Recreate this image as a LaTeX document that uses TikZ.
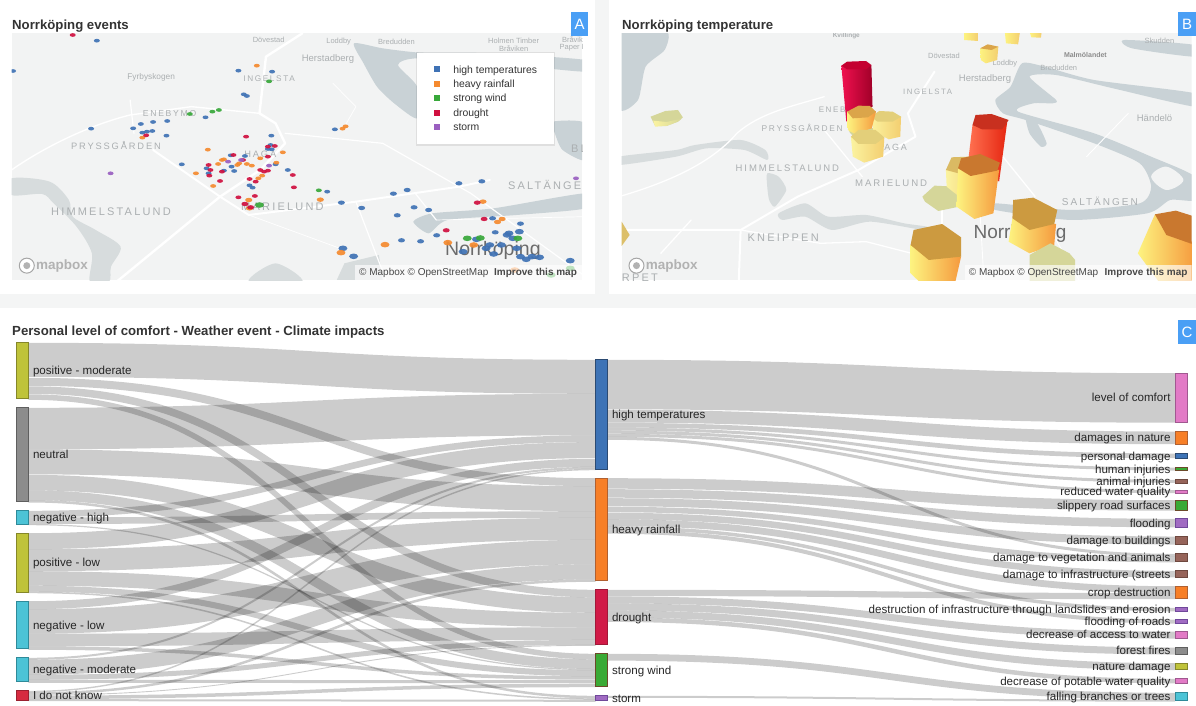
\documentclass[tikz,border=0pt]{standalone}
\usepackage{fontspec}
\setmainfont{Liberation Sans}
\newfontfamily\mapfont[LetterSpace=20]{Liberation Sans}
\usetikzlibrary{calc}
\pgfdeclarelayer{base}
\pgfdeclarelayer{flowlayer}
\pgfsetlayers{base,flowlayer,main}
\definecolor{pagebg}{HTML}{F4F5F5}
\definecolor{mapbg}{HTML}{F2F3F3}
\definecolor{water}{HTML}{C9D2D6}
\definecolor{waterb}{HTML}{D7DCDD}
\definecolor{badge}{HTML}{4A9FF5}
\definecolor{title}{HTML}{333333}
\definecolor{maptxt}{HTML}{ABAFB1}
\definecolor{evblue}{HTML}{3F72B5}
\definecolor{evorange}{HTML}{F58A2F}
\definecolor{evgreen}{HTML}{38A83A}
\definecolor{evred}{HTML}{D0103F}
\definecolor{evpurple}{HTML}{9A5FC0}
\definecolor{colpale}{HTML}{D5D699}
\definecolor{colY}{HTML}{FDF380}
\definecolor{colPY}{HTML}{FBF3A0}
\definecolor{colO}{HTML}{F59A3E}
\definecolor{colLO}{HTML}{F3CE70}
\definecolor{topM}{HTML}{CC9A40}
\definecolor{topB}{HTML}{C9782F}
\definecolor{topP}{HTML}{E3CF7A}
\definecolor{topA}{HTML}{DBA54A}
\definecolor{redL}{HTML}{F0104F}\definecolor{redR}{HTML}{A00028}\definecolor{redT}{HTML}{C40030}
\definecolor{ordL}{HTML}{FF7050}\definecolor{ordR}{HTML}{E52510}\definecolor{ordT}{HTML}{C8301F}
\definecolor{olive}{HTML}{BFC33A}\definecolor{oliveD}{HTML}{85872A}
\definecolor{gry}{HTML}{8C8C8C}\definecolor{gryD}{HTML}{5F5F5F}
\definecolor{teal}{HTML}{4CC3D6}\definecolor{tealD}{HTML}{2F8A99}
\definecolor{redn}{HTML}{D62B40}\definecolor{rednD}{HTML}{9A2030}
\definecolor{blue}{HTML}{3D73B6}\definecolor{blueD}{HTML}{2B4A72}
\definecolor{oran}{HTML}{F77F27}\definecolor{oranD}{HTML}{B06030}
\definecolor{crim}{HTML}{D11A47}\definecolor{crimD}{HTML}{A01838}
\definecolor{gren}{HTML}{3AAA35}\definecolor{grenD}{HTML}{6B4A2A}
\definecolor{purp}{HTML}{A06BC2}\definecolor{purpD}{HTML}{70489A}
\definecolor{pink}{HTML}{E27AC6}\definecolor{pinkD}{HTML}{A05890}
\definecolor{brow}{HTML}{96645A}\definecolor{browD}{HTML}{6E483F}
\tikzset{
  sbar/.style={rectangle,inner sep=0pt,outer sep=0pt,line width=1pt},
  lbl/.style={inner sep=0pt,outer sep=0pt,text=black!85,text height=8pt,text depth=0pt,font=\fontsize{11.6}{13}\selectfont},
  ttl/.style={anchor=west,inner sep=0pt,text=title,text height=10pt,text depth=0pt,font=\bfseries\fontsize{13.2}{15}\selectfont},
  bdg/.style={fill=badge,inner sep=0pt,outer sep=0pt,text=white,font=\fontsize{15}{17}\selectfont},
  flowline/.style={draw=black,draw opacity=.2,line cap=butt},
  capl/.style={inner sep=0pt,text=maptxt,font=\mapfont\fontsize{11}{13}\selectfont},
  sml/.style={inner sep=0pt,text=maptxt,font=\fontsize{7.5}{9}\selectfont},
  mid/.style={inner sep=0pt,text=maptxt,font=\fontsize{9.5}{11}\selectfont},
  city/.style={inner sep=0pt,text=black!58,font=\fontsize{19.5}{22}\selectfont},
  attr/.style={inner sep=0pt,text=black!72,font=\fontsize{10}{12}\selectfont},
  logo/.style={inner sep=0pt,text=black!30,font=\bfseries\fontsize{13.5}{15}\selectfont},
  legl/.style={anchor=west,inner sep=0pt,text=black!80,font=\fontsize{10.4}{12}\selectfont},
  legk/.style={rectangle,inner sep=0pt,outer sep=0pt,minimum size=6pt},
  rd/.style={draw=white,line cap=round,line join=round},
}
\newcommand\snode[7]{\node[sbar,fill=#6,draw=#7,minimum width={(#4-#2-1)*1pt},minimum height={(#5-#3-1)*1pt}] (#1) at ({(#2+#4)/2},{(#3+#5)/2}) {};}
\newcommand\lnk[6]{%
  \path ($(#2.north east)+(0,{#3+#6/2})$) coordinate (fs) ($(#4.north west)+(0,{#5+#6/2})$) coordinate (ft);
  \draw[flowline,line width=#6pt] (fs) .. controls (#1 |- fs) and (#1 |- ft) .. (ft);}
\newcommand\evs[3]{\foreach \p in {#3}{\fill[#1,opacity=.92] \p ellipse[x radius=#2pt,y radius=#2pt*0.62];}}
\begin{document}
\begin{tikzpicture}[x=1pt,y=-1pt]
\useasboundingbox (0,0) rectangle (1196,705);
\begin{pgfonlayer}{base}
\fill[pagebg] (0,0) rectangle (1196,705);
\fill[white] (0,0) rectangle (595,294);
\fill[white] (609,0) rectangle (1196,294);
\fill[white] (0,308) rectangle (1196,705);

% ---------- map A ----------
\begin{scope}
\clip (11.5,33) rectangle (582,280);
\fill[mapbg] (11.5,33) rectangle (582,280);
\begin{scope}[x=0.3827pt,y=-0.3333pt]
\fill[waterb] plot[smooth cycle,tension=.5] coordinates {(30,535)(130,545)(180,600)(190,650)(250,690)(315,740)(290,800)(285,845)(235,845)(240,760)(200,680)(140,610)(110,582)(30,585)};
\fill[waterb] plot[smooth cycle,tension=.5] coordinates {(650,845)(720,790)(790,845)};
\fill[water] plot[smooth cycle,tension=.4] coordinates {(925,130)(1000,145)(1100,158)(1280,160)(1530,180)(1530,215)(1300,190)(1090,175)(1040,195)(1090,260)(1090,355)(1030,310)(985,260)(950,190)};
\fill[water] plot[smooth cycle,tension=.4] coordinates {(1080,665)(1130,640)(1290,625)(1530,580)(1530,625)(1350,645)(1170,660)(1120,700)};
\fill[water] plot[smooth cycle,tension=.4] coordinates {(1445,365)(1530,370)(1530,480)(1470,450)(1450,400)};
\fill[waterb] (880,840) -- (900,790) -- (990,765) -- (1000,840) -- cycle;
\draw[rd,line width=2.4pt] (305,845) -- (575,590) -- (680,510) -- (745,430) -- (720,370) -- (678,340) -- (695,170) -- (790,100);
\draw[rd,line width=2pt] (400,450) -- (575,590) -- (650,645) -- (930,605) -- (1200,560) -- (1280,540);
\draw[rd,line width=1.4pt] (30,510) .. controls (130,430) and (250,370) .. (340,345) -- (500,320) -- (678,340);
\draw[rd,line width=1.2pt] (745,400) -- (1000,430) -- (1230,580) -- (1530,830);
\draw[rd,line width=1.2pt] (930,605) -- (1010,845);
\draw[rd,line width=1.2pt] (1085,580) -- (1140,660);
\draw[rd,line width=1.2pt] (340,300) -- (350,400);
\draw[rd,line width=.7pt] (650,645) -- (900,750) (1140,660) -- (1530,650) (870,250) -- (930,320) -- (900,380);
\node[sml] (a1) at (702,118) {Dövestad};
\node[sml] (a2) at (885,125) {Loddby};
\node[sml] (a3) at (1036,125) {Bredudden};
\node[sml] (a4) at (1342,122) {Holmen Timber};
\node[sml] (a5) at (1342,145) {Bråviken};
\node[sml,anchor=west] (a6) at (1468,118) {Bråvik};
\node[sml,anchor=west] (a7) at (1462,142) {Paper M};
\node[mid] (a8) at (857,178) {Herstadberg};
\node[sml,font=\fontsize{8.3}{10}\selectfont] (a9) at (395,231) {Fyrbyskogen};
\node[capl,font=\mapfont\fontsize{8.2}{10}\selectfont] (a10) at (703,237) {INGELSTA};
\node[capl,font=\mapfont\fontsize{8.6}{10}\selectfont] (a11) at (443,341) {ENEBYMO};
\node[capl,font=\mapfont\fontsize{9.3}{11}\selectfont] (a12) at (303,435) {PRYSSGÅRDEN};
\node[capl,font=\mapfont\fontsize{9.3}{11}\selectfont] (a13) at (680,462) {HAGA};
\node[capl] (a14) at (290,635) {HIMMELSTALUND};
\node[capl] (a15) at (738,620) {MARIELUND};
\node[capl,anchor=west] (a16) at (1327,555) {SALTÄNGEN};
\node[capl,anchor=west] (a17) at (1492,445) {BL};
\node[city] (a18) at (1288,752) {Norrköping};
\evs{evblue}{3}{(253,122),(34,213),(623,212),(711,215),(637,283),(645,288),(238,386),(348,385),(368,372),(400,366),(437,363),(537,352),(372,398),(398,393),(384,395),(435,407),(709,407),(707,435),(710,448),(700,447),(603,466),(475,493),(640,468),(540,505),(545,520),(605,500),(612,513),(585,512),(720,493),(752,510),(652,556),(660,563),(855,575),(875,388)}
\evs{evblue}{3.5}{(892,608),(945,624),(1028,581),(1064,570),(1199,550),(1259,544),(1082,622),(1120,630),(1038,646),(1141,706),(1049,721),(1099,724),(1287,655),(1360,671),(1294,697)}
\evs{evblue}{4.5}{(896,745),(924,769),(1330,700),(1357,695),(1340,715),(1325,705),(1245,718),(1280,735),(1310,735),(1210,755),(1270,745),(1290,762),(1360,770),(1375,778),(1390,770),(1410,772),(1350,745),(1490,782)}
\evs{evorange}{3}{(671,197),(903,379),(895,386),(372,413),(543,449),(739,457),(585,478),(570,492),(625,490),(645,492),(658,497),(512,520),(722,488),(680,475),(557,558),(685,527),(675,535),(620,495),(580,480)}
\evs{evorange}{3.6}{(837,599),(650,600),(652,625),(1262,605),(1312,657),(1300,666)}
\evs{evorange}{4.5}{(1006,734),(891,758),(1170,728),(1238,735),(1345,810)}
\evs{evgreen}{3}{(496,342),(555,335),(572,330),(703,244),(833,571)}
\evs{evgreen}{4.5}{(678,615),(1221,715),(1255,714),(1353,715),(1490,805),(1440,825)}
\evs{evred}{3}{(190,105),(382,406),(643,410),(700,440),(718,438),(700,470),(610,465),(635,480),(545,495),(550,510),(580,515),(547,527),(575,543),(652,537),(668,545),(680,510),(700,512),(690,515),(765,525),(768,562),(623,592),(666,588)}
\evs{evred}{3.5}{(640,612),(655,622),(1247,608),(1265,657),(1166,691)}
\evs{evpurple}{3}{(289,520),(596,485),(703,497),(1505,535),(630,480)}
\fill[white,opacity=.65] (928,795) rectangle (1525,845);
\draw[black!35,fill=white,line width=1pt] (70,797) circle[radius=7.5pt];
\fill[black!30] (70,797) circle[radius=3.5pt];
\node[logo,anchor=west] (a19) at (94,797) {mapbox};
\node[attr,anchor=west] (a20) at (938,818) {© Mapbox © OpenStreetMap};
\node[attr,anchor=east,font=\bfseries\fontsize{10}{12}\selectfont] (a21) at (1508,818) {Improve this map};
\end{scope}
\end{scope}

% ---------- map B ----------
\begin{scope}
\clip (621.7,33) rectangle (1191.5,280);
\fill[mapbg] (621.7,33) rectangle (1191.5,280);
\begin{scope}[xshift=600pt,x=0.3801pt,y=-0.3333pt]
\fill[water] plot[smooth cycle,tension=.4] coordinates {(50,95)(175,95)(170,150)(120,200)(100,300)(50,325)};
\fill[waterb] plot[smooth cycle,tension=.4] coordinates {(50,470)(200,450)(250,435)(370,420)(435,450)(440,480)(380,450)(280,445)(200,470)(50,495)};
\fill[waterb] plot[smooth cycle,tension=.4] coordinates {(440,520)(470,530)(490,570)(460,620)(445,600)(440,560)};
\fill[waterb] plot[smooth cycle,tension=.4] coordinates {(470,640)(540,610)(600,650)(700,645)(800,670)(860,680)(850,690)(710,665)(610,690)(540,650)(480,660)};
\fill[water] plot[smooth cycle,tension=.4] coordinates {(1110,190)(1170,200)(1300,240)(1565,280)(1565,320)(1350,265)(1200,225)(1130,230)(1200,300)(1190,310)(1140,310)(1100,335)(1300,400)(1450,470)(1565,530)(1565,600)(1500,600)(1440,640)(1240,660)(1040,630)(1040,610)(1240,630)(1420,610)(1450,560)(1420,490)(1300,430)(1120,360)(1060,340)(1040,300)(1080,260)};
\fill[water] plot[smooth cycle,tension=.4] coordinates {(1120,350)(1150,370)(1175,430)(1160,440)(1130,400)};
\fill[water] plot[smooth cycle,tension=.4] coordinates {(1380,120)(1565,135)(1565,170)(1400,145)};
\fill[mapbg] plot[smooth cycle,tension=.6] coordinates {(1450,530)(1490,500)(1535,540)(1490,570)};
\draw[rd,line width=2pt] (50,690) -- (370,690) -- (365,845);
\draw[rd,line width=2pt] (370,690) -- (520,590) -- (680,510) -- (830,410) -- (810,340) -- (880,215);
\draw[rd,line width=1.3pt] (50,590) .. controls (200,540) and (300,480) .. (360,400) .. controls (420,340) and (500,320) .. (590,290);
\draw[rd,line width=1.3pt] (590,390) -- (690,530);
\draw[rd,line width=1.3pt] (370,690) -- (580,730) -- (700,725) -- (820,760);
\draw[rd,line width=1.3pt] (240,660) -- (160,760);
\draw[rd,line width=1.3pt] (1060,470) -- (1145,590);
\draw[rd,line width=1.3pt] (900,590) -- (900,680);
\draw[rd,line width=.9pt] (1200,720) -- (1260,840) (1280,470) -- (1390,340) (1000,640) -- (1010,840);
\node[sml,font=\bfseries\fontsize{6.5}{8}\selectfont] (b1) at (648,106) {Kvillinge};
\node[sml] (b2) at (905,168) {Dövestad};
\node[sml] (b3) at (1065,190) {Loddby};
\node[sml] (b4) at (1207,202) {Bredudden};
\node[sml,font=\bfseries\fontsize{7}{8}\selectfont,text=black!45] (b5) at (1277,166) {Malmölandet};
\node[sml] (b6) at (1472,122) {Skudden};
\node[mid] (b7) at (1013,236) {Herstadberg};
\node[capl,font=\mapfont\fontsize{7.8}{10}\selectfont] (b8) at (862,274) {INGELSTA};
\node[mid] (b9) at (1459,353) {Händelö};
\node[capl,font=\mapfont\fontsize{8}{10}\selectfont,anchor=west] (b10) at (575,330) {ENEBYMO};
\node[capl,font=\mapfont\fontsize{8.4}{10}\selectfont] (b11) at (532,383) {PRYSSGÅRDEN};
\node[capl,font=\mapfont\fontsize{9}{11}\selectfont,anchor=east] (b12) at (808,441) {HAGA};
\node[capl,font=\mapfont\fontsize{9.5}{11}\selectfont] (b13) at (493,505) {HIMMELSTALUND};
\node[capl,font=\mapfont\fontsize{9.6}{11}\selectfont] (b14) at (766,549) {MARIELUND};
\node[capl,font=\mapfont\fontsize{10}{12}\selectfont] (b15) at (1315,605) {SALTÄNGEN};
\node[capl] (b16) at (482,714) {KNEIPPEN};
\node[city,font=\fontsize{19}{22}\selectfont] (b17) at (1105,700) {Norrköping};
\node[capl,anchor=west] (b18) at (57,834) {RPET};
% columns
\fill[colpale] plot coordinates {(133,350)(172,333)(205,330)(218,352)(205,365)(175,378)(145,378)} -- cycle;
\shade[left color=colPY,right color=colpale] (140,362) -- (175,366) -- (215,356) -- (205,365) -- (175,378) -- (145,380) -- cycle;
\shade[left color=colY,right color=colLO] (1000,145) -- (1002,180) -- (1015,190) -- (1045,180) -- (1048,140) -- cycle;
\fill[topA] (1000,145) -- (1020,133) -- (1048,140) -- (1030,150) -- cycle;
\shade[left color=colY,right color=colLO] (958,95) -- (958,120) -- (995,123) -- (995,95) -- cycle;
\shade[left color=colY,right color=colLO] (1065,95) -- (1068,130) -- (1100,133) -- (1105,95) -- cycle;
\shade[left color=colY,right color=colLO] (1130,95) -- (1135,112) -- (1160,113) -- (1162,95) -- cycle;
\fill[topP!70!topM] (57,665) -- (78,705) -- (57,738) -- cycle;
% tall red
\shade[left color=redL,right color=redR] (635,197) -- (648,365) -- (717,320) -- (714,195) -- cycle;
\fill[redT] (635,197) -- (650,185) -- (700,183) -- (714,195) -- (700,208) -- (650,208) -- cycle;
% cluster
\fill[colpale] (655,395) -- (685,380) -- (720,385) -- (725,410) -- (680,425) -- cycle;
\shade[left color=colPY,right color=colLO] (712,350) -- (720,395) -- (760,418) -- (790,410) -- (792,350) -- cycle;
\fill[topP] (712,350) -- (735,333) -- (770,335) -- (792,350) -- (770,365) -- (730,365) -- cycle;
\shade[left color=colY,right color=colO] (650,335) -- (652,390) -- (670,402) -- (715,385) -- (726,335) -- cycle;
\fill[topA] (650,335) -- (680,317) -- (710,318) -- (726,335) -- (705,352) -- (665,355) -- cycle;
\shade[left color=colPY,right color=colLO] (660,410) -- (665,470) -- (695,488) -- (745,470) -- (748,412) -- cycle;
\fill[topP] (660,410) -- (680,390) -- (725,390) -- (748,412) -- (725,432) -- (680,432) -- cycle;
% tall orange-red
\shade[left color=ordL,right color=ordR] (980,375) -- (970,470) -- (1050,545) -- (1072,360) -- cycle;
\fill[ordT] (980,375) -- (988,345) -- (1030,342) -- (1075,360) -- (1058,388) -- (1005,388) -- cycle;
\fill[colpale] (848,590) -- (880,557) -- (935,560) -- (945,620) -- (890,633) -- (855,605) -- cycle;
\shade[left color=colPY,right color=colLO] (910,510) -- (912,560) -- (945,590) -- (1000,590) -- (1000,510) -- cycle;
\fill[topP!60!topM] (910,510) -- (925,472) -- (970,470) -- (1000,510) -- (960,525) -- cycle;
\shade[left color=colY,right color=colO] (942,505) -- (938,620) -- (985,657) -- (1035,640) -- (1050,510) -- cycle;
\fill[topB] (942,505) -- (950,475) -- (1000,462) -- (1052,488) -- (1045,512) -- (975,528) -- cycle;
% lower columns
\shade[left color=colY,right color=colO] (1085,655) -- (1075,725) -- (1130,760) -- (1195,735) -- (1200,672) -- cycle;
\fill[topM] (1087,600) -- (1140,593) -- (1203,630) -- (1195,672) -- (1130,690) -- (1085,655) -- cycle;
\fill[colpale] (1130,765) -- (1185,730) -- (1235,760) -- (1250,780) -- (1250,845) -- (1130,845) -- cycle;
\shade[left color=colY,right color=colO] (817,735) -- (817,820) -- (840,845) -- (935,845) -- (950,770) -- cycle;
\fill[topM] (817,735) -- (825,690) -- (900,672) -- (950,712) -- (950,770) -- (865,780) -- cycle;
\shade[left color=colY,right color=colO] (1460,643) -- (1415,760) -- (1470,845) -- (1565,845) -- (1565,732) -- cycle;
\fill[topB] (1460,643) -- (1515,632) -- (1565,650) -- (1565,735) -- (1490,705) -- cycle;
\fill[white,opacity=.65] (960,795) rectangle (1565,845);
\draw[black!35,fill=white,line width=1pt] (96,797) circle[radius=7.5pt];
\fill[black!30] (96,797) circle[radius=3.5pt];
\node[logo,anchor=west] (b19) at (120,797) {mapbox};
\node[attr,anchor=west] (b20) at (970,818) {© Mapbox © OpenStreetMap};
\node[attr,anchor=east,font=\bfseries\fontsize{10}{12}\selectfont] (b21) at (1546,818) {Improve this map};
\end{scope}
\end{scope}
\end{pgfonlayer}

% legend
\begin{scope}[x=0.3827pt,y=-0.3333pt]
\fill[black,opacity=.08] (1086,157) rectangle (1451,437);
\node[rectangle,fill=white,inner sep=0pt,minimum width=136.5pt,minimum height=91pt] (legbox) at (1268.5,296.5) {};
\node[legk,fill=evblue] (k1) at (1143,208) {}; \node[legl] (t1) at (1184,211) {high temperatures};
\node[legk,fill=evorange] (k2) at (1143,252) {}; \node[legl] (t2) at (1184,254) {heavy rainfall};
\node[legk,fill=evgreen] (k3) at (1143,295) {}; \node[legl] (t3) at (1184,297) {strong wind};
\node[legk,fill=evred] (k4) at (1143,338) {}; \node[legl] (t4) at (1184,340) {drought};
\node[legk,fill=evpurple] (k5) at (1143,380) {}; \node[legl] (t5) at (1184,383) {storm};
\end{scope}

% titles and badges
\node[ttl] (tA) at (12,24) {Norrköping events};
\node[ttl] (tB) at (622,24) {Norrköping temperature};
\node[ttl] (tC) at (12,330) {Personal level of comfort - Weather event - Climate impacts};
\node[bdg,minimum width=17pt,minimum height=24pt] (bA) at (579.5,24) {A};
\node[bdg,minimum width=18pt,minimum height=24pt] (bB) at (1187,24) {B};
\node[bdg,minimum width=18pt,minimum height=24pt] (bC) at (1187,332) {C};

% Sankey nodes: left
\snode{pm}{16}{342.3}{29}{399.3}{olive}{oliveD}
\snode{neu}{16}{407.3}{29}{502}{gry}{gryD}
\snode{negh}{16}{510.3}{29}{524.7}{teal}{tealD}
\snode{posl}{16}{532.7}{29}{592.7}{olive}{oliveD}
\snode{negl}{16}{600.7}{29}{649.3}{teal}{tealD}
\snode{negm}{16}{657.3}{29}{682.3}{teal}{tealD}
\snode{idk}{16}{690.3}{29}{701.3}{redn}{rednD}
% middle
\snode{ht}{595}{359.3}{608}{469.7}{blue}{blueD}
\snode{hr}{595}{477.7}{608}{581.3}{oran}{oranD}
\snode{dr}{595}{589.3}{608}{645.3}{crim}{crimD}
\snode{sw}{595}{653.3}{608}{686.7}{gren}{grenD}
\snode{st}{595}{695.3}{608}{701.3}{purp}{purpD}
% right
\snode{r1}{1174.5}{372.7}{1187.6}{422.7}{pink}{pinkD}
\snode{r2}{1174.5}{431}{1187.6}{444.7}{oran}{oranD}
\snode{r3}{1174.5}{453}{1187.6}{459}{blue}{blueD}
\snode{r4}{1174.5}{467}{1187.6}{471.3}{gren}{grenD}
\snode{r5}{1174.5}{479.3}{1187.6}{483.7}{brow}{browD}
\snode{r6}{1174.5}{489.7}{1187.6}{493.7}{pink}{pinkD}
\snode{r7}{1174.5}{499.7}{1187.6}{510.7}{gren}{grenD}
\snode{r8}{1174.5}{518.3}{1187.6}{527.7}{purp}{purpD}
\snode{r9}{1174.5}{536}{1187.6}{545}{brow}{browD}
\snode{r10}{1174.5}{553.3}{1187.6}{562.3}{brow}{browD}
\snode{r11}{1174.5}{570.3}{1187.6}{577.7}{brow}{browD}
\snode{r12}{1174.5}{585.7}{1187.6}{599.3}{oran}{oranD}
\snode{r13}{1174.5}{607.3}{1187.6}{611.7}{purp}{purpD}
\snode{r14}{1174.5}{619}{1187.6}{623.7}{purp}{purpD}
\snode{r15}{1174.5}{631}{1187.6}{638.7}{pink}{pinkD}
\snode{r16}{1174.5}{647}{1187.6}{654.7}{gry}{gryD}
\snode{r17}{1174.5}{662.7}{1187.6}{670.3}{olive}{oliveD}
\snode{r18}{1174.5}{678.3}{1187.6}{683.7}{pink}{pinkD}
\snode{r19}{1174.5}{692.3}{1187.6}{701.3}{teal}{tealD}

% Sankey labels
\foreach \n/\t in {pm/positive - moderate,neu/neutral,negh/negative - high,posl/positive - low,negl/negative - low,negm/negative - moderate,idk/I do not know,ht/high temperatures,hr/heavy rainfall,dr/drought,sw/strong wind,st/storm}{
  \node[lbl,anchor=west] (\n L) at ([xshift=4.5pt]\n.east) {\t};}
\foreach \n/\t in {r1/level of comfort,r2/damages in nature,r3/personal damage,r4/human injuries,r5/animal injuries,r6/reduced water quality,r7/slippery road surfaces,r8/flooding,r9/damage to buildings,r10/damage to vegetation and animals,r11/damage to infrastructure (streets,r12/crop destruction,r13/destruction of infrastructure through landslides and erosion,r14/flooding of roads,r15/decrease of access to water,r16/forest fires,r17/nature damage,r18/decrease of potable water quality,r19/falling branches or trees}{
  \node[lbl,anchor=east] (\n L) at ([xshift=-4.5pt]\n.west) {\t};}

% Sankey flows
\coordinate (cL) at (312,0);
\coordinate (cR) at (891,0);
\begin{pgfonlayer}{flowlayer}
\lnk{cL}{pm}{0}{ht}{0}{34}
\lnk{cL}{pm}{35}{hr}{0}{8}
\lnk{cL}{pm}{43.5}{dr}{0}{7.5}
\lnk{cL}{pm}{51.5}{sw}{0}{5.5}
\lnk{cL}{neu}{0}{ht}{34}{41.5}
\lnk{cL}{neu}{41.5}{hr}{8}{25}
\lnk{cL}{neu}{67}{dr}{7.5}{15.5}
\lnk{cL}{neu}{82.5}{sw}{5.5}{9.7}
\lnk{cL}{neu}{92.2}{st}{0}{2.5}
\lnk{cL}{negh}{0}{ht}{75.5}{6.6}
\lnk{cL}{negh}{6.6}{hr}{33}{6.6}
\lnk{cL}{negh}{13.2}{sw}{15.2}{1.2}
\lnk{cL}{posl}{0}{ht}{82.3}{16}
\lnk{cL}{posl}{16}{hr}{39.6}{22}
\lnk{cL}{posl}{38}{dr}{23}{14.5}
\lnk{cL}{posl}{52.5}{sw}{16.4}{6}
\lnk{cL}{posl}{58.5}{st}{2.5}{1.5}
\lnk{cL}{negl}{0}{ht}{99}{8}
\lnk{cL}{negl}{8}{hr}{61.6}{24.5}
\lnk{cL}{negl}{32.5}{dr}{37.5}{12.6}
\lnk{cL}{negl}{45.1}{sw}{22.4}{3.5}
\lnk{cL}{negm}{0}{ht}{107}{2}
\lnk{cL}{negm}{2}{hr}{86.1}{15}
\lnk{cL}{negm}{17}{dr}{50.1}{5}
\lnk{cL}{negm}{22}{sw}{26.4}{3}
\lnk{cL}{idk}{0}{ht}{109}{1.4}
\lnk{cL}{idk}{1.4}{hr}{101.1}{2.5}
\lnk{cL}{idk}{3.9}{dr}{55.1}{.9}
\lnk{cL}{idk}{4.8}{sw}{29.9}{3.5}
\lnk{cL}{idk}{8.3}{st}{4}{2}
% right column
\lnk{cR}{ht}{0}{r1}{0}{49.5}
\lnk{cR}{ht}{50}{r2}{0}{12.7}
\lnk{cR}{ht}{63}{r3}{0}{4.7}
\lnk{cR}{ht}{67.8}{r4}{0}{3}
\lnk{cR}{ht}{70.9}{r5}{0}{3}
\lnk{cR}{ht}{74}{r6}{0}{3}
\lnk{cR}{ht}{77}{r10}{0}{3}
\lnk{cR}{hr}{0}{r7}{0}{10.5}
\lnk{cR}{hr}{11}{r8}{0}{8.5}
\lnk{cR}{hr}{20}{r9}{0}{8}
\lnk{cR}{hr}{28.5}{r10}{3}{5.5}
\lnk{cR}{hr}{34.5}{r11}{0}{6.5}
\lnk{cR}{hr}{41}{r12}{0}{6.8}
\lnk{cR}{hr}{48}{r13}{0}{3.5}
\lnk{cR}{hr}{51.5}{r14}{0}{4}
\lnk{cR}{dr}{0}{r12}{6.8}{6.2}
\lnk{cR}{dr}{6.6}{r15}{0}{7}
\lnk{cR}{dr}{13.6}{r16}{0}{7}
\lnk{cR}{dr}{20.6}{r17}{0}{7}
\lnk{cR}{dr}{27.6}{r18}{0}{4.5}
\lnk{cR}{sw}{0}{r19}{0}{6.8}
\lnk{cR}{st}{0}{r19}{6.8}{2}
\end{pgfonlayer}
\end{tikzpicture}
\end{document}
